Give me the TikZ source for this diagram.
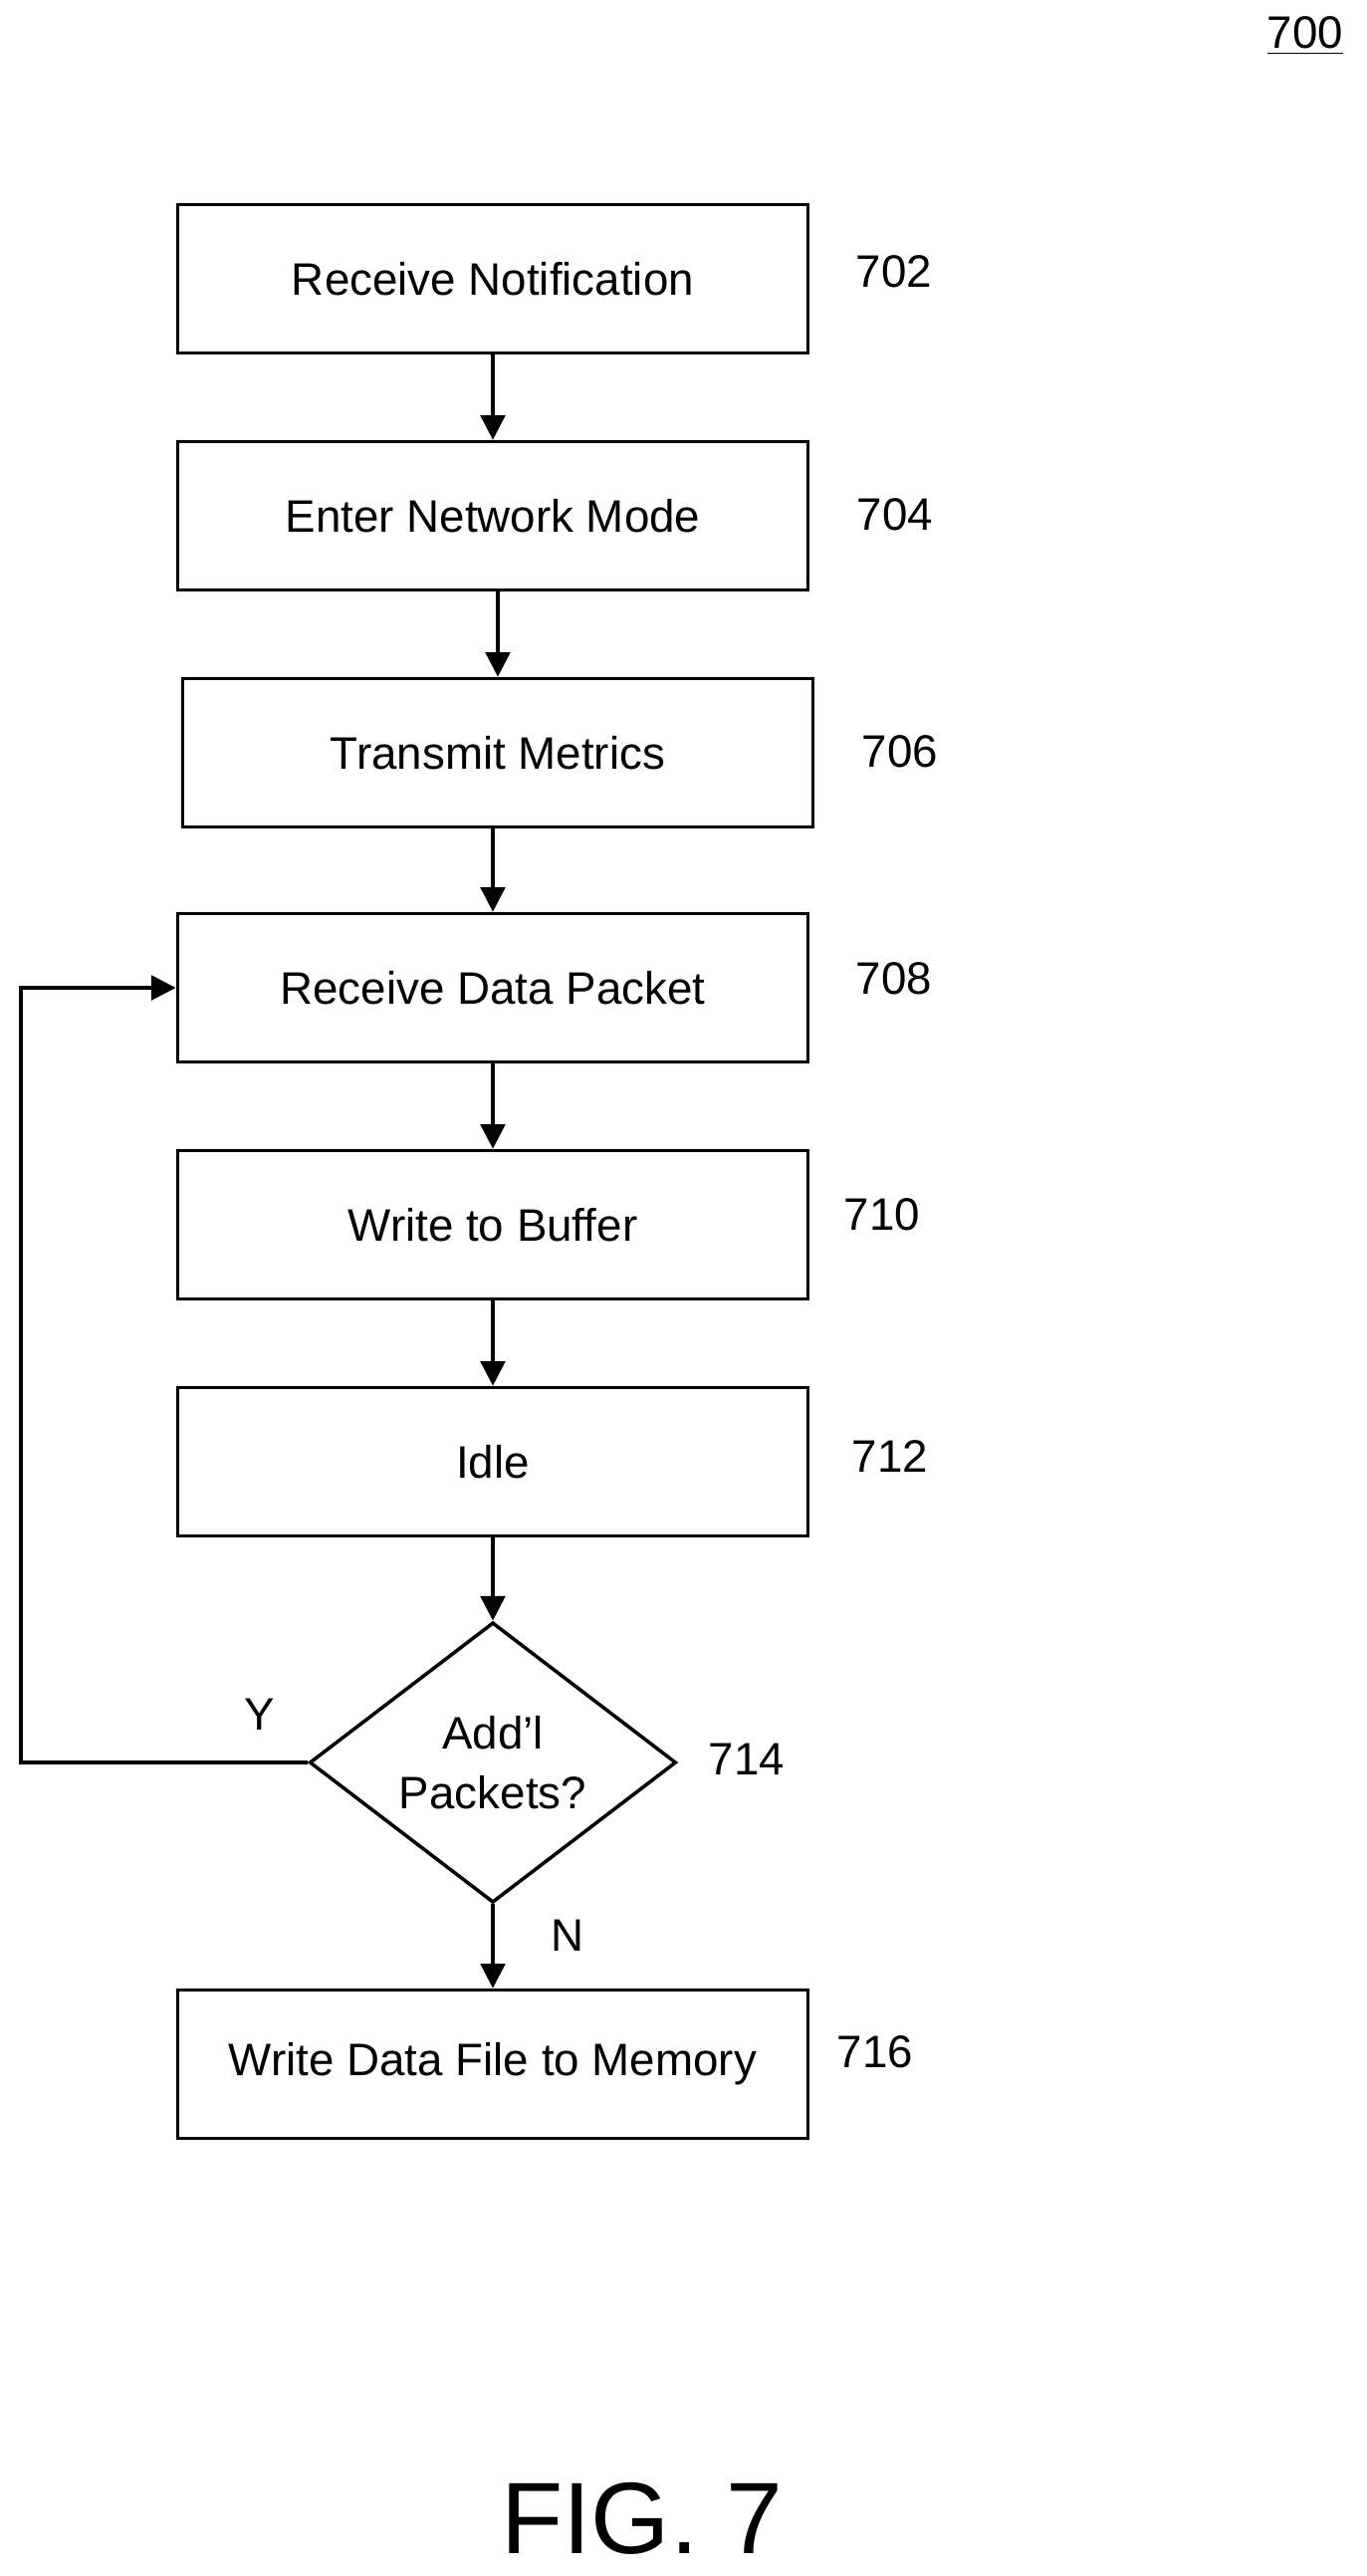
\documentclass[tikz,border=0pt]{standalone}
\usepackage{fontspec}
\setmainfont{Liberation Sans}
\usetikzlibrary{shapes.geometric,arrows.meta}
\begin{document}
\begin{tikzpicture}[x=0.01cm,y=-0.01cm,
  box/.style={draw,line width=1pt,minimum width=6.33cm,minimum height=1.49cm,inner sep=0pt,font=\fontsize{13pt}{15pt}\selectfont},
  lbl/.style={font=\fontsize{13pt}{15pt}\selectfont,inner sep=0pt},
  arr/.style={line width=1pt,-{Triangle[length=7pt,width=7pt]}}]
\useasboundingbox (0,0) rectangle (1372,2587);
\node[box] (b702) at (495,280) {Receive Notification};
\node[box] (b704) at (495,518) {Enter Network Mode};
\node[box] (b706) at (500,756) {Transmit Metrics};
\node[box] (b708) at (495,992) {Receive Data Packet};
\node[box] (b710) at (495,1230) {Write to Buffer};
\node[box] (b712) at (495,1468) {Idle};
\node[draw,line width=1pt,diamond,minimum width=3.68cm,minimum height=2.78cm,inner sep=0pt,align=center,font=\fontsize{13pt}{17pt}\selectfont] (d714) at (495,1770) {Add’l\\Packets?};
\node[box] (b716) at (495,2073) {Write Data File to Memory};
\node[lbl] (l702) at (898,273) {702};
\node[lbl] (l704) at (899,517) {704};
\node[lbl] (l706) at (904,755) {706};
\node[lbl] (l708) at (898,983) {708};
\node[lbl] (l710) at (886,1220) {710};
\node[lbl] (l712) at (894,1463) {712};
\node[lbl] (l714) at (750,1767) {714};
\node[lbl] (l716) at (879,2061) {716};
\node[lbl] (l700) at (1311,36) {\underline{700}};
\node[lbl] (ly) at (261,1722) {Y};
\node[lbl] (ln) at (570,1944) {N};
\node[inner sep=0pt,font=\fontsize{29pt}{33pt}\selectfont] (fig) at (645,2529) {FIG. 7};
\draw[arr] (b702.south) -- (b702.south |- b704.north);
\draw[arr] (b704.south) ++(5,0) coordinate (c1) -- (c1 |- b706.north);
\draw[arr] (b706.south) ++(-5,0) coordinate (c2) -- (c2 |- b708.north);
\draw[arr] (b708.south) -- (b710.north);
\draw[arr] (b710.south) -- (b712.north);
\draw[arr] (b712.south) -- (d714.north);
\draw[arr] (d714.south) -- (b716.north);
\coordinate (lp) at (21,1770);
\draw[arr] (d714.west) -- (lp) -- (lp |- b708.west) -- (b708.west);
\end{tikzpicture}
\end{document}
